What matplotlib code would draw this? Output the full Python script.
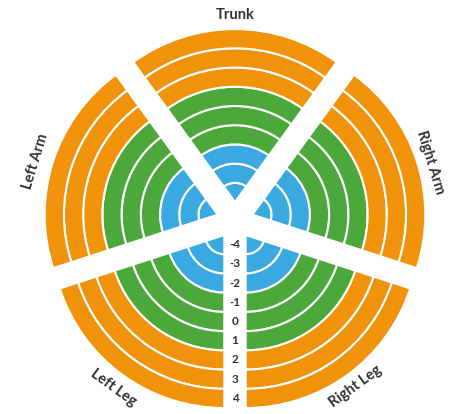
import numpy as np
import matplotlib
matplotlib.use("Agg")
import matplotlib.pyplot as plt

categories = ["Trunk", "Right Arm", "Right Leg", "Left Leg", "Left Arm"]
levels = [-4, -3, -2, -1, 0, 1, 2, 3, 4]
level_colors = ["#3BA9E1", "#3BA9E1", "#3BA9E1",
                "#4CA83B", "#4CA83B", "#4CA83B",
                "#F0920A", "#F0920A", "#F0920A"]
sizes = [1, 1, 1, 1, 1]

W, H = 450, 414
fig = plt.figure(figsize=(W / 100, H / 100 + 0.0001), dpi=100)
ax = fig.add_axes([0, 0, 1, 1])

cx, cy = 235.0, H - 220.3
R = 173.0
d = 18.2
ring = R / len(levels)
n = len(categories)
step = 360 / n

for k, (lev, col) in enumerate(zip(levels, level_colors)):
    ax.pie(sizes, radius=(k + 1) * ring, center=(cx, cy),
           colors=[col] * n, startangle=90 + step / 2, counterclock=False,
           explode=[d] * n, frame=True,
           wedgeprops=dict(width=ring, edgecolor="white", linewidth=1.5))

ax.set_xlim(0, W)
ax.set_ylim(0, H)
ax.set_aspect("auto")
ax.axis("off")

font = "Lato"
lab_r = [205, 204, 205, 207, 208]
lab_ang = [90, 16.5, -54, -126, 163.5]
rots = [0, -73, 36, -36, 73]
for i, cat in enumerate(categories):
    a = np.deg2rad(lab_ang[i])
    x = cx + lab_r[i] * np.cos(a)
    y = cy + lab_r[i] * np.sin(a)
    ax.text(x, y, cat, ha="center", va="center", rotation=rots[i],
            rotation_mode="anchor", fontsize=10.5, fontweight="bold",
            family=font, color="#333333")

for k, lev in enumerate(levels):
    y = cy - 0.809 * d - (k + 0.5) * ring
    ax.text(cx, y, str(lev), ha="center", va="center", fontsize=8.5,
            fontweight="bold", family=font, color="#333333")

fig.savefig("out.png", dpi=100)
